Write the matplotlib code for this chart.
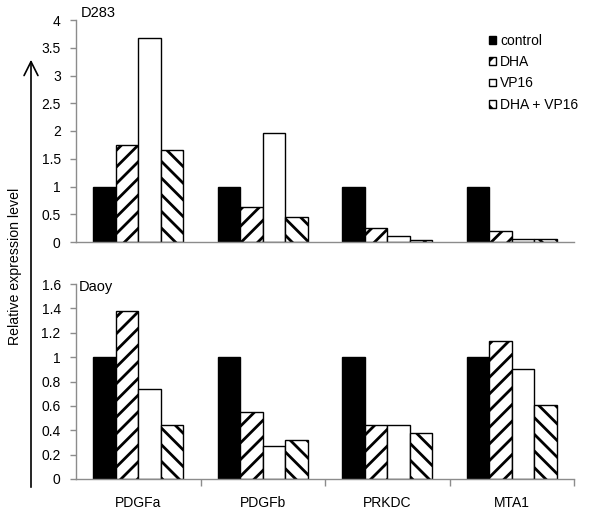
import matplotlib
matplotlib.use("Agg")
import matplotlib.pyplot as plt
import numpy as np
from matplotlib.patches import FancyArrowPatch

plt.rcParams['font.family'] = ['Liberation Sans', 'DejaVu Sans']
plt.rcParams['hatch.linewidth'] = 2.0

categories = ["PDGFa", "PDGFb", "PRKDC", "MTA1"]
series = ["control", "DHA", "VP16", "DHA + VP16"]

d283_control = [1.0, 1.0, 1.0, 1.0]
d283_dha = [1.75, 0.63, 0.25, 0.19]
d283_vp16 = [3.68, 1.97, 0.10, 0.06]
d283_combo = [1.65, 0.45, 0.04, 0.06]

daoy_control = [1.0, 1.0, 1.0, 1.0]
daoy_dha = [1.38, 0.55, 0.44, 1.13]
daoy_vp16 = [0.74, 0.27, 0.44, 0.90]
daoy_combo = [0.44, 0.32, 0.375, 0.61]

top_ticks = [0, 0.5, 1, 1.5, 2, 2.5, 3, 3.5, 4]
top_ticklabels = ["0", "0.5", "1", "1.5", "2", "2.5", "3", "3.5", "4"]
bot_ticks = [0, 0.2, 0.4, 0.6, 0.8, 1.0, 1.2, 1.4, 1.6]
bot_ticklabels = ["0", "0.2", "0.4", "0.6", "0.8", "1", "1.2", "1.4", "1.6"]

styles = [
    dict(facecolor="black", edgecolor="black", hatch=None),
    dict(facecolor="white", edgecolor="black", hatch="//"),
    dict(facecolor="white", edgecolor="black", hatch=None),
    dict(facecolor="white", edgecolor="black", hatch="\\\\"),
]

W, H = 601, 512
fig = plt.figure(figsize=(W / 100, H / 100), dpi=100)

def px_axes(l, r, t, b):
    return fig.add_axes([l / W, 1 - b / H, (r - l) / W, (b - t) / H])

ax1 = px_axes(76, 574, 20, 242)
ax2 = px_axes(76, 574, 284, 479)

x = np.arange(len(categories))
bw = 0.18
gray = "#8c8c8c"

def draw(ax, data, ticks, ticklabels, show_x):
    handles = []
    for i, (vals, st) in enumerate(zip(data, styles)):
        h = ax.bar(x + (i - 1.5) * bw, vals, width=bw, linewidth=1.0,
                   label=series[i], **st)
        handles.append(h)
    ax.set_xlim(-0.5, 3.5)
    ax.set_ylim(ticks[0], ticks[-1])
    ax.set_yticks(ticks)
    ax.set_yticklabels(ticklabels, fontsize=10)
    ax.tick_params(axis='y', direction='out', length=4, width=1, color=gray, pad=7)
    for s in ['top', 'right']:
        ax.spines[s].set_visible(False)
    for s in ['left', 'bottom']:
        ax.spines[s].set_color(gray)
        ax.spines[s].set_linewidth(1)
    ax.set_xticks(x)
    if show_x:
        ax.set_xticklabels(categories, fontsize=10)
        ax.set_xticks([0.5, 1.5, 2.5, 3.5], minor=True)
        ax.tick_params(axis='x', which='major', length=0, pad=12)
        ax.tick_params(axis='x', which='minor', direction='out', length=5, width=1, color=gray)
    else:
        ax.set_xticklabels([])
        ax.tick_params(axis='x', which='both', length=0)
    return handles

h1 = draw(ax1, [d283_control, d283_dha, d283_vp16, d283_combo], top_ticks, top_ticklabels, False)
draw(ax2, [daoy_control, daoy_dha, daoy_vp16, daoy_combo], bot_ticks, bot_ticklabels, True)

ax1.text(81 / W, 1 - 13 / H, "D283", transform=fig.transFigure, fontsize=10.5,
         ha='left', va='center')
ax2.text(79 / W, 1 - 287 / H, "Daoy", transform=fig.transFigure, fontsize=10.5,
         ha='left', va='center')

ax1.legend(handles=h1, loc='upper left', bbox_to_anchor=(489 / W, 1 - 34 / H),
           bbox_transform=fig.transFigure, frameon=False, fontsize=10,
           handlelength=0.5, handleheight=0.5, handletextpad=0.3,
           labelspacing=0.52, borderpad=0, borderaxespad=0)

fig.text(15 / W, 1 - 266 / H, "Relative expression level", rotation=90,
         fontsize=10.2, ha='center', va='center')

arrow = FancyArrowPatch((31 / W, 1 - 490 / H), (31 / W, 1 - 57 / H),
                        transform=fig.transFigure,
                        arrowstyle='->,head_length=10,head_width=5',
                        color='black', linewidth=1.2, mutation_scale=1)
fig.patches.append(arrow)

fig.savefig("out.png", dpi=100)
